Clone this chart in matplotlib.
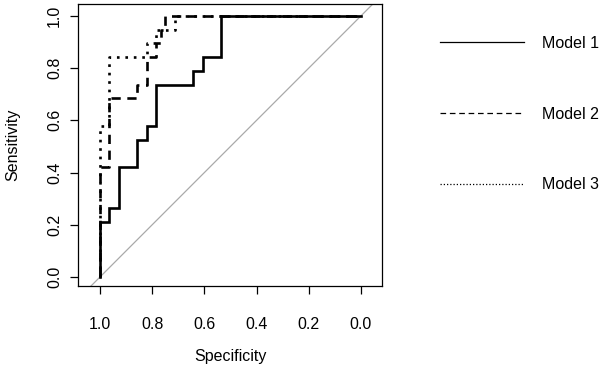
import matplotlib.pyplot as plt
from matplotlib.lines import Line2D

plt.rcParams['font.family'] = ['Liberation Sans', 'DejaVu Sans']

# ROC curve vertices (specificity, sensitivity)
spec_m1 = [1.0, 1.0, 0.964, 0.964, 0.929, 0.929, 0.857, 0.857, 0.821, 0.821,
           0.786, 0.786, 0.643, 0.643, 0.607, 0.607, 0.536, 0.536, 0.0]
sens_m1 = [0.0, 0.211, 0.211, 0.263, 0.263, 0.421, 0.421, 0.526, 0.526, 0.579,
           0.579, 0.737, 0.737, 0.789, 0.789, 0.842, 0.842, 1.0, 1.0]

spec_m2 = [1.0, 1.0, 0.964, 0.964, 0.857, 0.857, 0.821, 0.821, 0.786, 0.786,
           0.768, 0.768, 0.75, 0.75, 0.0]
sens_m2 = [0.0, 0.421, 0.421, 0.684, 0.684, 0.737, 0.737, 0.842, 0.842, 0.895,
           0.895, 0.947, 0.947, 1.0, 1.0]

spec_m3 = [1.0, 1.0, 0.964, 0.964, 0.821, 0.821, 0.786, 0.786, 0.714, 0.714, 0.0]
sens_m3 = [0.0, 0.579, 0.579, 0.842, 0.842, 0.895, 0.895, 0.947, 0.947, 1.0, 1.0]

labels = ['Model 1', 'Model 2', 'Model 3']
ticks = [1.0, 0.8, 0.6, 0.4, 0.2, 0.0]

fig = plt.figure(figsize=(6.06, 3.71), dpi=100)
ax = fig.add_axes([0.129, 0.229, 0.501, 0.759])

ax.axline((1, 0), (0, 1), color='#aaaaaa', lw=0.9, zorder=1)

ax.plot(spec_m1, sens_m1, color='black', lw=1.9, solid_joinstyle='miter')
ax.plot(spec_m2, sens_m2, color='black', lw=1.9, dashes=(3.5, 2.5))
ax.plot(spec_m3, sens_m3, color='black', lw=1.9, dashes=(1.0, 2.2))

ax.set_xlim(1.084, -0.08)
ax.set_ylim(-0.035, 1.044)
ax.set_xticks(ticks)
ax.set_xticklabels([f'{t:.1f}' for t in ticks])
ax.set_yticks(ticks)
ax.set_yticklabels([f'{t:.1f}' for t in ticks], rotation=90, va='center')
ax.tick_params(length=5.5, width=0.9, labelsize=11.5)
ax.tick_params(axis='x', pad=17)
ax.tick_params(axis='y', pad=6)
for s in ax.spines.values():
    s.set_linewidth(0.9)

ax.set_xlabel('Specificity', fontsize=11.5, labelpad=12)
ax.set_ylabel('Sensitivity', fontsize=11.5, labelpad=19.5)

handles = [Line2D([], [], color='black', lw=0.9),
           Line2D([], [], color='black', lw=0.9, dashes=(4.5, 3)),
           Line2D([], [], color='black', lw=0.9, dashes=(1, 1.6))]
fig.legend(handles, labels, loc='upper left', bbox_to_anchor=(0.715, 0.92),
           frameon=False, fontsize=11.5, handlelength=5.3, handletextpad=1.1,
           labelspacing=3.48, borderaxespad=0)

fig.savefig('out.png', dpi=100)
